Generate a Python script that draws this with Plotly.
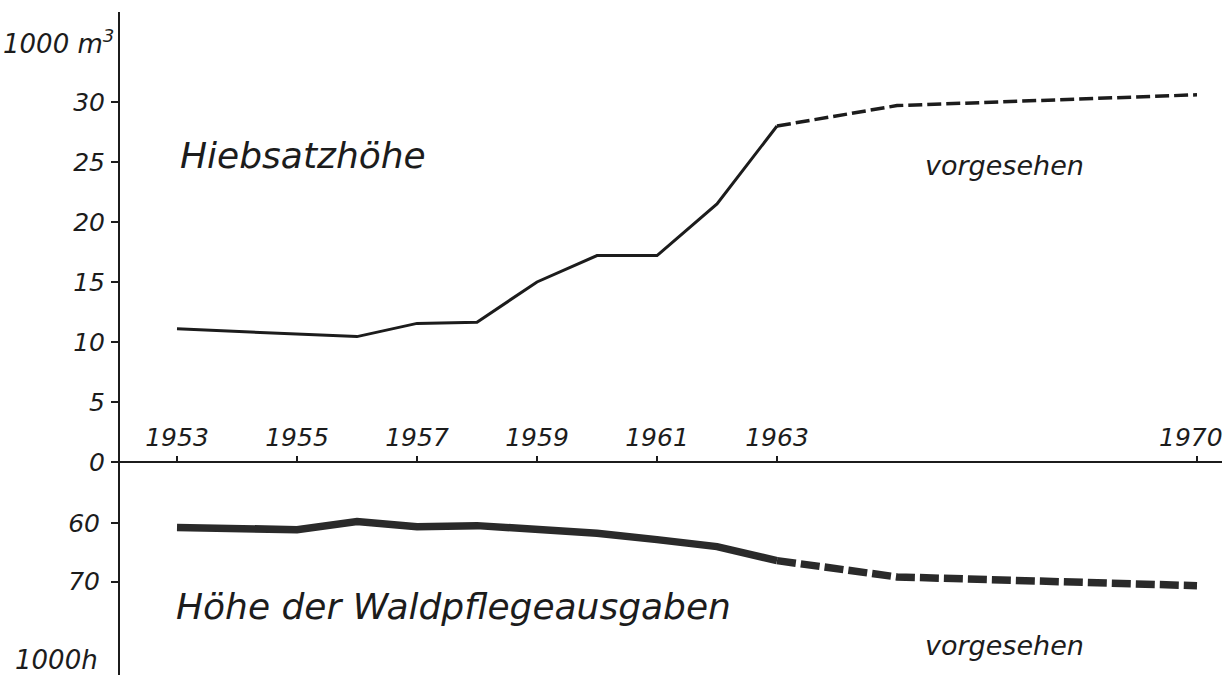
import plotly.graph_objects as go

# ---- data ----
years_actual = [1953, 1954, 1955, 1956, 1957, 1958, 1959, 1960, 1961, 1962, 1963]
hieb_actual = [11.1, 10.9, 10.7, 10.45, 11.55, 11.65, 15.0, 17.2, 17.2, 21.5, 28.0]
years_plan = [1963, 1965, 1970]
hieb_plan = [28.0, 29.7, 30.6]
pflege_actual = [60.7, 60.9, 61.1, 59.7, 60.6, 60.4, 60.9, 61.7, 62.8, 64.0, 66.4]
pflege_plan = [66.4, 69.2, 70.7]

x_ticks = [1953, 1955, 1957, 1959, 1961, 1963, 1970]
x_ticktext = ["1953", "1955", "1957", "1959", "1961", "1963", "1970"]
y_top_ticks = [0, 5, 10, 15, 20, 25, 30]
y_bot_ticks = [60, 70]

W, H = 1227, 675
INK = "#1c1c1c"
FONT = "DejaVu Sans"

def px(x):
    return x / W

def py(y):
    return 1 - y / H

fig = go.Figure()
fig.add_trace(go.Scatter(x=years_actual, y=hieb_actual, mode="lines",
                         line=dict(color=INK, width=3), xaxis="x", yaxis="y",
                         showlegend=False, hoverinfo="skip"))
fig.add_trace(go.Scatter(x=years_plan, y=hieb_plan, mode="lines",
                         line=dict(color=INK, width=3.5, dash="14px,5px"),
                         xaxis="x", yaxis="y", showlegend=False, hoverinfo="skip"))
fig.add_trace(go.Scatter(x=years_actual, y=pflege_actual, mode="lines",
                         line=dict(color="#2a2a2a", width=7.5), xaxis="x", yaxis="y2",
                         showlegend=False, hoverinfo="skip"))
fig.add_trace(go.Scatter(x=years_plan, y=pflege_plan, mode="lines",
                         line=dict(color="#2a2a2a", width=7.5, dash="19px,5px"),
                         xaxis="x", yaxis="y2", showlegend=False, hoverinfo="skip"))

split = py(462)
tickfont = dict(family=FONT, size=25, color=INK, style="italic")

# the last year label sits at the right edge: draw it as an annotation nudged inward
axis_ticktext = x_ticktext[:-1] + [""]

fig.update_layout(
    width=W, height=H, autosize=False,
    margin=dict(l=0, r=0, t=0, b=0, pad=0, autoexpand=False),
    paper_bgcolor="white", plot_bgcolor="white",
    xaxis=dict(domain=[px(120), 1], range=[1953 - 57 / 60, 1953 + (W - 177) / 60],
               anchor="y2", side="top", showgrid=False, zeroline=False,
               showline=False, ticks="outside", ticklen=5, tickwidth=2,
               tickcolor=INK, tickvals=x_ticks, ticktext=axis_ticktext,
               tickfont=tickfont, ticklabelstandoff=0, ticklabeloverflow="allow",
               automargin=False),
    yaxis=dict(domain=[split, py(12)], range=[0, (462 - 12) / 12.0], anchor="x",
               showgrid=False, zeroline=False, showline=True, linecolor=INK,
               linewidth=2, ticks="outside", ticklen=7, tickwidth=2, tickcolor=INK,
               tickvals=y_top_ticks, tickfont=tickfont, ticklabelstandoff=1,
               automargin=False),
    yaxis2=dict(domain=[0, split], range=[60 + (675 - 523.3) / 5.83, 60 - (523.3 - 462) / 5.83],
                anchor="x", showgrid=False, zeroline=False, showline=True,
                linecolor=INK, linewidth=2, ticks="outside", ticklen=7, tickwidth=2,
                tickcolor=INK, tickvals=y_bot_ticks, tickfont=tickfont,
                ticklabelstandoff=6, automargin=False),
)

fig.add_annotation(text=x_ticktext[-1], xref="x", yref="paper", x=x_ticks[-1],
                   y=py(437), xanchor="center", yanchor="middle", xshift=-6,
                   showarrow=False, font=tickfont)

# horizontal base line (extends slightly left of the vertical axis)
fig.add_shape(type="line", xref="paper", yref="paper", x0=px(112), x1=px(1222),
              y0=split, y1=split, line=dict(color=INK, width=2))

def label(text, x, y, size, xanchor="left"):
    fig.add_annotation(text=text, xref="paper", yref="paper", x=px(x), y=py(y),
                       xanchor=xanchor, yanchor="middle", showarrow=False,
                       font=dict(family=FONT, size=size, color=INK, style="italic"))

label("1000 m<sup>3</sup>", 116, 42, 26, "right")
label("1000h", 100, 660, 26, "right")
label("Hiebsatzhöhe", 178, 155, 36)
label("vorgesehen", 923, 165, 27)
label("Höhe der Waldpflegeausgaben", 174, 606, 36)
label("vorgesehen", 923, 645, 27)

fig.write_html(
    "out.html",
    config={"responsive": False, "displayModeBar": False},
    post_script="document.body.style.margin='0';document.body.style.padding='0';"
                "document.documentElement.style.overflow='hidden';",
)
